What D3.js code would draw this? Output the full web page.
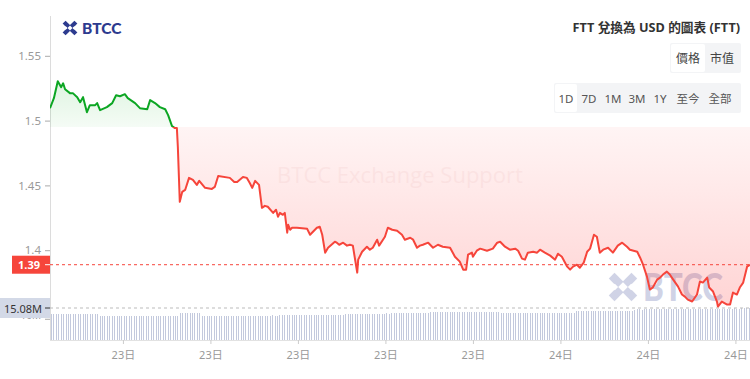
<!DOCTYPE html>
<html><head><meta charset="utf-8">
<script src="https://cdn.jsdelivr.net/npm/d3@7"></script>
<style>
body{margin:0;background:#fff;}
svg{display:block;font-family:"Noto Sans","Noto Sans CJK TC",sans-serif;}
</style>
</head><body>
<svg id="c" width="750" height="379"></svg>
<script>
// ---- DATA ----
// minutes since the start of the 24h window
const times = [0,8,16,23,27,31,41,47,56,62,68,76,82,93,97,103,117,128,136,144,154,160,175,185,200,206,216,226,237,243,251,257,261,
263,267,272,278,286,294,302,307,319,333,339,346,370,379,385,397,405,411,416,422,430,436,442,448,459,465,469,473,479,483,488,490,494,498,508,529,535,549,555,560,566,572,586,590,595,603,611,617,623,632,634,642,652,658,664,673,677,685,689,695,704,714,724,730,741,747,755,761,767,778,788,798,808,823,833,843,850,856,860,868,870,878,885,899,911,920,926,936,946,957,963,971,977,983,994,1002,1008,1018,1029,1039,1045,1053,1064,1070,1076,1084,1090,1098,1105,1111,1119,1125,1131,1138,1148,1158,1168,1177,1187,1193,1208,1214,1220,1228,1234,1240,1249,1255,1261,1269,1275,1282,1292,1300,1306,1312,1321,1331,1337,1343,1352,1356,1364,1372,1374,1382,1393,1399,1405,1413,1419,1426,1434,1440];
const prices = [1.5096,1.5173,1.5304,1.5258,1.5288,1.5242,1.5212,1.5212,1.5181,1.5142,1.5181,1.5065,1.5119,1.5119,1.5135,1.5081,1.5104,1.5135,1.5196,1.5188,1.5204,1.5173,1.5135,1.5096,1.5088,1.5158,1.5135,1.5104,1.5088,1.5042,1.4958,1.4942,1.4942,
1.4796,1.4373,1.4450,1.4465,1.4558,1.4542,1.4504,1.4535,1.4481,1.4473,1.4488,1.4573,1.4558,1.4527,1.4527,1.4565,1.4558,1.4519,1.4481,1.4535,1.4504,1.4327,1.4342,1.4335,1.4288,1.4312,1.4258,1.4288,1.4273,1.4288,1.4135,1.4196,1.4158,1.4173,1.4173,1.4165,1.4119,1.4173,1.4181,1.4119,1.3981,1.4019,1.4065,1.4058,1.4042,1.4058,1.4035,1.4042,1.4035,1.3827,1.3927,1.3988,1.4027,1.4004,1.4019,1.4081,1.4035,1.4081,1.4104,1.4173,1.4158,1.4150,1.4119,1.4081,1.4096,1.4081,1.4019,1.4035,1.4042,1.4058,1.4019,1.4042,1.4027,1.4019,1.3950,1.3912,1.3850,1.3850,1.3965,1.3981,1.3950,1.3996,1.4012,1.3996,1.4012,1.4058,1.4065,1.4027,1.4004,1.4012,1.3996,1.3935,1.3927,1.3981,1.3988,1.3981,1.4004,1.3981,1.3958,1.3927,1.3973,1.3950,1.3873,1.3850,1.3873,1.3888,1.3865,1.3904,1.3988,1.4012,1.4119,1.4104,1.3981,1.4004,1.4019,1.3981,1.4035,1.4058,1.4027,1.4004,1.3988,1.3942,1.3888,1.3796,1.3696,1.3712,1.3773,1.3788,1.3812,1.3835,1.3812,1.3773,1.3719,1.3658,1.3642,1.3619,1.3604,1.3658,1.3758,1.3750,1.3788,1.3712,1.3681,1.3604,1.3565,1.3604,1.3581,1.3581,1.3673,1.3658,1.3712,1.3750,1.3873,1.3888];
// 5-minute volume bars (millions)
const volumes = [
12.3,12.3,12.2,12.3,12.4,12.3,12.3,12.2,12.3,12.3,12.4,12.3,12.2,12.3,12.3,12.3,12.2,12.3,12.3,12.2,11.4,11.3,11.3,11.3,
11.3,11.3,11.2,11.3,11.3,11.3,11.4,11.3,11.3,11.2,11.3,11.3,11.3,11.3,11.4,11.3,11.3,11.3,11.2,11.3,11.3,11.3,11.3,11.3,
11.3,11.3,11.3,11.4,11.3,12.7,12.8,12.9,12.8,12.8,12.7,12.8,12.7,12.6,11.4,11.3,11.3,11.3,11.3,11.2,11.3,11.3,11.3,11.3,
11.3,11.3,11.4,11.3,11.3,11.4,11.4,11.3,11.4,11.4,11.5,11.4,11.4,11.5,11.5,11.4,11.5,11.5,11.5,11.6,11.5,11.5,11.6,11.6,
11.6,11.7,11.7,11.6,11.7,11.7,11.8,11.7,11.7,11.8,11.8,11.7,11.8,11.8,11.9,11.8,11.8,11.9,11.9,11.9,12.0,11.9,12.0,12.0,
12.0,12.1,12.1,12.1,12.2,12.1,12.2,12.2,12.3,12.2,12.2,12.3,12.3,12.3,12.4,12.3,12.4,12.4,12.5,12.4,12.5,12.5,12.6,12.6,
12.7,12.7,12.7,12.8,12.7,12.7,12.8,12.8,12.7,12.8,12.8,12.8,13.1,13.1,13.2,13.1,13.1,13.2,13.2,13.1,13.2,13.1,13.2,13.2,
13.2,13.1,13.2,13.1,13.2,13.2,13.1,13.2,13.1,13.2,13.1,13.1,13.2,13.1,13.1,13.1,13.1,12.8,12.7,12.8,12.7,12.7,12.8,12.7,
12.7,12.8,12.7,12.7,12.8,12.7,12.7,12.8,12.8,12.7,12.8,12.7,12.7,12.8,12.8,12.7,12.8,12.8,12.7,12.8,12.8,12.8,12.9,12.9,
13.6,13.6,13.7,13.6,13.7,13.7,13.6,13.7,13.7,13.7,13.8,13.7,13.7,13.8,13.7,13.8,13.8,13.7,13.8,13.8,13.8,13.9,13.8,13.9,
14.3,14.4,14.4,14.3,14.4,14.4,14.5,14.4,14.4,14.5,14.5,14.4,14.5,14.5,14.5,14.6,14.5,14.5,14.6,14.6,14.5,14.6,14.6,14.6,
14.6,14.7,14.6,14.7,14.7,14.7,14.7,14.8,14.7,14.7,14.8,14.8,14.8,14.7,14.8,14.8,14.8,14.9,14.8,14.8,14.9,14.9,15.0,15.08];
const volStep = 5;
const openPrice = 1.495;
const lastPriceLabel = "1.39";
const lastVolumeLabel = "15.08M";
const yTicks = [1.4, 1.45, 1.5, 1.55];
const yTickLabels = ["1.4", "1.45", "1.5", "1.55"];
const xTickTimes = [150, 330, 510, 690, 870, 1050, 1230, 1410];
const xTickLabels = ["23日","23日","23日","23日","23日","24日","24日","24日"];
const volTicks = [10];
const volTickLabels = ["10M"];
const title = "FTT 兌換為 USD 的圖表 (FTT)";
const modeButtons = ["價格", "市值"];
const rangeButtons = ["1D", "7D", "1M", "3M", "1Y", "至今", "全部"];

// ---- CHART ----
const svg = d3.select("#c");
const L = 50, R = 750, TOP = 16, BOT = 340;
const x = d3.scaleLinear().domain([0, 1440]).range([L, R]);
const y = d3.scaleLinear().domain([1.4, 1.55]).range([250.2, 55.8]);
const yv = d3.scaleLinear().domain([0, 15.08]).range([BOT, 308]);
const data = times.map((t, i) => ({t, p: prices[i]}));
const yb = y(openPrice);
const RED = "#f6453b", GREEN = "#0ca623";

const defs = svg.append("defs");
const gg = defs.append("linearGradient").attr("id","gG").attr("gradientUnits","userSpaceOnUse")
  .attr("x1",0).attr("x2",0).attr("y1", y(d3.max(prices))).attr("y2", yb);
gg.append("stop").attr("offset","0").attr("stop-color","rgb(0,170,20)").attr("stop-opacity",0.13);
gg.append("stop").attr("offset","1").attr("stop-color","rgb(0,170,20)").attr("stop-opacity",0.04);
const rg = defs.append("linearGradient").attr("id","gR").attr("gradientUnits","userSpaceOnUse")
  .attr("x1",0).attr("x2",0).attr("y1", yb).attr("y2", y(d3.min(prices)));
rg.append("stop").attr("offset","0").attr("stop-color","rgb(255,40,40)").attr("stop-opacity",0.05);
rg.append("stop").attr("offset","1").attr("stop-color","rgb(255,40,40)").attr("stop-opacity",0.2);
defs.append("clipPath").attr("id","cAbove").append("rect").attr("x",L).attr("y",0).attr("width",R-L).attr("height",yb);
defs.append("clipPath").attr("id","cBelow").append("rect").attr("x",L).attr("y",yb).attr("width",R-L).attr("height",400);

function logo(g, cx, cy, s, color, op) {
  const h = s*0.42, gap = s*0.09;
  const grp = g.append("g").attr("opacity", op);
  [[-1,-1],[1,-1],[-1,1],[1,1]].forEach(([sx,sy]) => {
    grp.append("line").attr("x1", cx+sx*h).attr("y1", cy+sy*h)
      .attr("x2", cx+sx*gap).attr("y2", cy+sy*gap)
      .attr("stroke", color).attr("stroke-width", s*0.3);
  });
  [[-1,0],[1,0]].forEach(([sx]) => {
    grp.append("path").attr("d", `M${cx+sx*(h+s*0.1)},${cy} L${cx+sx*(h-s*0.12)},${cy-s*0.12} L${cx+sx*(h-s*0.24)},${cy} L${cx+sx*(h-s*0.12)},${cy+s*0.12}Z`)
      .attr("fill","#fff");
  });
}

// watermarks (behind)
svg.append("text").attr("x", 400).attr("y", 174).attr("text-anchor","middle").attr("dominant-baseline","central")
  .attr("font-family","'Open Sans',sans-serif").attr("font-size", 22).attr("fill","rgb(200,90,90)").attr("opacity",0.06)
  .text("BTCC Exchange Support");
logo(svg, 623, 287, 27, "#2d3b8f", 0.22);
svg.append("text").attr("x", 643).attr("y", 301).attr("font-family","Lato,'Open Sans',sans-serif").attr("font-weight","900")
  .attr("font-size", 38).attr("textLength", 80).attr("lengthAdjust","spacingAndGlyphs")
  .attr("fill","#2d3b8f").attr("opacity",0.22).text("BTCC");

// axes lines
svg.append("line").attr("x1", L+0.5).attr("x2", L+0.5).attr("y1", TOP).attr("y2", BOT).attr("stroke","#dcdcdc");
svg.append("line").attr("x1", L).attr("x2", R).attr("y1", BOT+0.5).attr("y2", BOT+0.5).attr("stroke","#e2e2e2");

// volume bars
svg.append("g").attr("shape-rendering","crispEdges").selectAll("rect").data(volumes).join("rect")
  .attr("x", (d,i) => Math.round(x(i*volStep)) + 1).attr("width", 1)
  .attr("y", d => Math.round(yv(d))).attr("height", d => BOT - Math.round(yv(d)))
  .attr("fill", "#c3c9dd");

// areas
const area = d3.area().x(d => x(d.t)).y0(yb).y1(d => y(d.p));
const line = d3.line().x(d => x(d.t)).y(d => y(d.p));
svg.append("path").datum(data).attr("d", area).attr("fill","url(#gG)").attr("clip-path","url(#cAbove)");
svg.append("path").datum(data).attr("d", area).attr("fill","url(#gR)").attr("clip-path","url(#cBelow)");

// last price dashed line & volume dashed line
const lastP = prices[prices.length-1];
svg.append("line").attr("x1", L).attr("x2", R).attr("y1", y(lastP)).attr("y2", y(lastP))
  .attr("stroke", RED).attr("stroke-dasharray","3,3").attr("stroke-width",1);
const lastV = volumes[volumes.length-1];
svg.append("line").attr("x1", L).attr("x2", R).attr("y1", yv(lastV)).attr("y2", yv(lastV))
  .attr("stroke", "#bbb").attr("stroke-dasharray","3,3").attr("stroke-width",1);

// lines
svg.append("path").datum(data).attr("d", line).attr("fill","none").attr("stroke",GREEN).attr("stroke-width",2)
  .attr("stroke-linejoin","round").attr("clip-path","url(#cAbove)");
svg.append("path").datum(data).attr("d", line).attr("fill","none").attr("stroke",RED).attr("stroke-width",2)
  .attr("stroke-linejoin","round").attr("clip-path","url(#cBelow)");

// y axis
const ya = svg.append("g").attr("transform", `translate(${L},0)`)
  .call(d3.axisLeft(y).tickValues(yTicks).tickSize(5).tickPadding(4).tickFormat((d,i) => yTickLabels[i]));
ya.select(".domain").remove();
ya.selectAll("line").attr("stroke","#aaa");
ya.selectAll("text").attr("fill","#999").attr("font-size",11.5).attr("font-family","'Noto Sans',sans-serif");

// volume axis (label mostly hidden behind the current-volume badge, as in the original)
const va = svg.append("g").attr("transform", `translate(${L},0)`)
  .call(d3.axisLeft(yv).tickValues(volTicks).tickSize(5).tickPadding(4).tickFormat((d,i) => volTickLabels[i]));
va.select(".domain").remove();
va.selectAll("line").attr("stroke","#aaa");
va.selectAll("text").attr("fill","#999").attr("font-size",10).attr("dy","-0.05em").attr("font-family","'Noto Sans',sans-serif");

// x axis
const xa = svg.append("g").attr("transform", `translate(0,${BOT})`)
  .call(d3.axisBottom(x).tickValues(xTickTimes).tickSize(4).tickPadding(7).tickFormat((d,i) => xTickLabels[i]));
xa.select(".domain").remove();
xa.selectAll("line").attr("stroke","#ccc");
xa.selectAll("text").attr("fill","#999").attr("font-size",11).attr("font-family","'Noto Sans','Noto Sans CJK TC',sans-serif");

// last price label
const lp = svg.append("g");
lp.append("rect").attr("x", 12).attr("y", y(lastP)-9).attr("width", L-12).attr("height", 18).attr("fill", RED);
lp.append("text").attr("x", 40).attr("y", y(lastP)).attr("text-anchor","end").attr("dominant-baseline","central")
  .attr("fill","#fff").attr("font-size",11).attr("font-weight","bold").text(lastPriceLabel);
lp.append("line").attr("x1",45).attr("x2",50).attr("y1",y(lastP)).attr("y2",y(lastP)).attr("stroke","#fff");

// last volume label
const lv = svg.append("g");
lv.append("rect").attr("x", 0).attr("y", yv(lastV)-10).attr("width", L).attr("height", 20).attr("fill", "#d3d9e7");
lv.append("text").attr("x", 42).attr("y", yv(lastV)).attr("text-anchor","end").attr("dominant-baseline","central")
  .attr("fill","#333").attr("font-size",11).text(lastVolumeLabel);
lv.append("line").attr("x1",45).attr("x2",50).attr("y1",yv(lastV)).attr("y2",yv(lastV)).attr("stroke","#333");

// top-left logo
logo(svg, 70, 28, 14, "#2d3b8f", 1);
svg.append("text").attr("x", 82).attr("y", 33.5).attr("font-family","Lato,'Open Sans',sans-serif").attr("font-weight","900")
  .attr("font-size", 15.5).attr("fill","#2d3b8f").text("BTCC");

// title
svg.append("text").attr("x", 740).attr("y", 27).attr("text-anchor","end").attr("dominant-baseline","central")
  .attr("font-size", 12.7).attr("font-weight","bold").attr("fill","#333").text(title);

// mode buttons
const mb = svg.append("g");
mb.append("rect").attr("x",670).attr("y",43).attr("width",71).attr("height",30).attr("rx",2).attr("fill","#f3f4f6");
mb.append("rect").attr("x",671).attr("y",44).attr("width",34).attr("height",28).attr("rx",2).attr("fill","#fff");
const mX = [688, 722];
modeButtons.forEach((t,i) => mb.append("text").attr("x", mX[i]).attr("y", 58.5).attr("text-anchor","middle")
  .attr("dominant-baseline","central").attr("font-size",12).attr("fill","#444").text(t));

// range buttons
const rb = svg.append("g");
rb.append("rect").attr("x",554).attr("y",83).attr("width",187).attr("height",30).attr("rx",2).attr("fill","#f3f4f6");
rb.append("rect").attr("x",555).attr("y",84).attr("width",22).attr("height",28).attr("rx",2).attr("fill","#fff");
const rX = [566, 589, 613, 637, 660, 688, 720];
rangeButtons.forEach((t,i) => rb.append("text").attr("x", rX[i]).attr("y", 98.5).attr("text-anchor","middle")
  .attr("dominant-baseline","central").attr("font-size",11.5).attr("fill","#555").text(t));
</script>
</body></html>
